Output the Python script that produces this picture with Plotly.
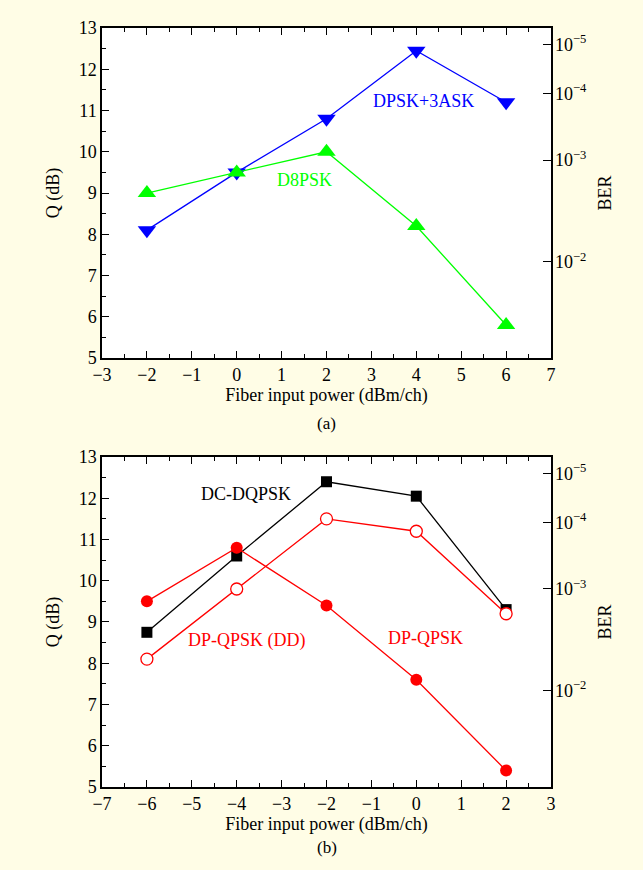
import math
import plotly.graph_objects as go

# ---- data ----
x_a = [-2, 0, 2, 4, 6]
dpsk_3ask = [8.1, 9.5, 10.8, 12.45, 11.2]
d8psk = [9.0, 9.5, 10.0, 8.2, 5.8]

x_b = [-6, -4, -2, 0, 2]
dc_dqpsk = [8.75, 10.6, 12.4, 12.05, 9.3]
dp_qpsk_dd = [8.1, 9.8, 11.5, 11.2, 9.2]
dp_qpsk = [9.5, 10.8, 9.4, 7.6, 5.4]

ber_ticks = [1e-5, 1e-4, 1e-3, 1e-2]
ber_labels = ["10<sup>−5</sup>", "10<sup>−4</sup>", "10<sup>−3</sup>", "10<sup>−2</sup>"]


def ber_to_qdb(ber):
    lo, hi = 0.1, 10.0
    for _ in range(100):
        mid = 0.5 * (lo + hi)
        if 0.5 * math.erfc(mid / math.sqrt(2)) > ber:
            lo = mid
        else:
            hi = mid
    return 20 * math.log10(0.5 * (lo + hi))


ber_pos = [ber_to_qdb(b) for b in ber_ticks]

FONT = "Liberation Serif, Times New Roman, serif"
BG = "#FFFDE6"

fig = go.Figure()

# top panel
fig.add_trace(go.Scatter(x=x_a, y=dpsk_3ask, mode="lines+markers", xaxis="x", yaxis="y",
                         line=dict(color="#0000FF", width=1.3),
                         marker=dict(symbol="triangle-down", size=16, color="#0000FF")))
fig.add_trace(go.Scatter(x=x_a, y=d8psk, mode="lines+markers", xaxis="x", yaxis="y",
                         line=dict(color="#00FF00", width=1.3),
                         marker=dict(symbol="triangle-up", size=16, color="#00FF00")))
fig.add_trace(go.Scatter(x=[], y=[], xaxis="x", yaxis="y3", showlegend=False))

# bottom panel
fig.add_trace(go.Scatter(x=x_b, y=dc_dqpsk, mode="lines+markers", xaxis="x2", yaxis="y2",
                         line=dict(color="black", width=1.3),
                         marker=dict(symbol="square", size=11, color="black")))
fig.add_trace(go.Scatter(x=x_b, y=dp_qpsk_dd, mode="lines+markers", xaxis="x2", yaxis="y2",
                         line=dict(color="#FF0000", width=1.3),
                         marker=dict(symbol="circle", size=12, color="white",
                                     line=dict(color="#FF0000", width=1.3))))
fig.add_trace(go.Scatter(x=x_b, y=dp_qpsk, mode="lines+markers", xaxis="x2", yaxis="y2",
                         line=dict(color="#FF0000", width=1.3),
                         marker=dict(symbol="circle", size=12, color="#FF0000")))
fig.add_trace(go.Scatter(x=[], y=[], xaxis="x2", yaxis="y4", showlegend=False))

tickfont = dict(family=FONT, size=18, color="black")
titlefont = dict(family=FONT, size=18, color="black")

common_x = dict(showline=True, linecolor="black", linewidth=1.5, mirror="ticks",
                ticks="inside", ticklen=7, tickwidth=1.2, tickcolor="black",
                dtick=1, showgrid=False, zeroline=False, tickfont=tickfont,
                minor=dict(dtick=0.5, ticks="inside", ticklen=4, tickcolor="black", tickwidth=1),
                title=dict(text="Fiber input power (dBm/ch)", font=titlefont, standoff=4))
common_y = dict(showline=True, linecolor="black", linewidth=1.5, mirror=True,
                ticks="inside", ticklen=7, tickwidth=1.2, tickcolor="black",
                range=[5, 13], dtick=1, showgrid=False, zeroline=False, tickfont=tickfont,
                minor=dict(dtick=0.5, ticks="inside", ticklen=4, tickcolor="black", tickwidth=1),
                title=dict(text="Q (dB)", font=titlefont, standoff=14))
common_r = dict(side="right", range=[5, 13], tickmode="array", tickvals=ber_pos,
                ticktext=ber_labels, ticks="inside", ticklen=8, tickwidth=1.2,
                tickcolor="black", showgrid=False, zeroline=False, showline=False,
                tickfont=tickfont, ticklabelstandoff=3,
                title=dict(text="BER", font=titlefont, standoff=12))

dom_top = [0.5652, 1.0]
dom_bot = [0.0, 0.4348]

fig.update_layout(
    width=643, height=870,
    margin=dict(l=102, r=92, t=28, b=83),
    paper_bgcolor=BG, plot_bgcolor="white",
    showlegend=False,
    font=dict(family=FONT, color="black"),
    xaxis=dict(common_x, domain=[0, 1], anchor="y", range=[-3, 7]),
    yaxis=dict(common_y, domain=dom_top, anchor="x"),
    yaxis3=dict(common_r, overlaying="y", anchor="x"),
    xaxis2=dict(common_x, domain=[0, 1], anchor="y2", range=[-7, 3]),
    yaxis2=dict(common_y, domain=dom_bot, anchor="x2"),
    yaxis4=dict(common_r, overlaying="y2", anchor="x2"),
    annotations=[
        dict(x=4.15, y=11.23, xref="x", yref="y", text="DPSK+3ASK", showarrow=False,
             font=dict(family=FONT, size=18, color="#0000FF")),
        dict(x=1.5, y=9.32, xref="x", yref="y", text="D8PSK", showarrow=False,
             font=dict(family=FONT, size=18, color="#00FF00")),
        dict(x=-3.8, y=12.1, xref="x2", yref="y2", text="DC-DQPSK", showarrow=False,
             font=dict(family=FONT, size=18, color="black")),
        dict(x=-3.78, y=8.54, xref="x2", yref="y2", text="DP-QPSK (DD)", showarrow=False,
             font=dict(family=FONT, size=18, color="#FF0000")),
        dict(x=0.2, y=8.6, xref="x2", yref="y2", text="DP-QPSK", showarrow=False,
             font=dict(family=FONT, size=18, color="#FF0000")),
        dict(x=0.5, y=(787 - 423) / 759, xref="paper", yref="paper", text="(a)", showarrow=False,
             font=dict(family=FONT, size=17, color="black"), yanchor="middle"),
        dict(x=0.5, y=(787 - 847) / 759, xref="paper", yref="paper", text="(b)", showarrow=False,
             font=dict(family=FONT, size=17, color="black"), yanchor="middle"),
    ],
)

fig.write_html("out.html", config={"displayModeBar": False},
               post_script="document.body.style.margin='0';document.body.style.padding='0';")
